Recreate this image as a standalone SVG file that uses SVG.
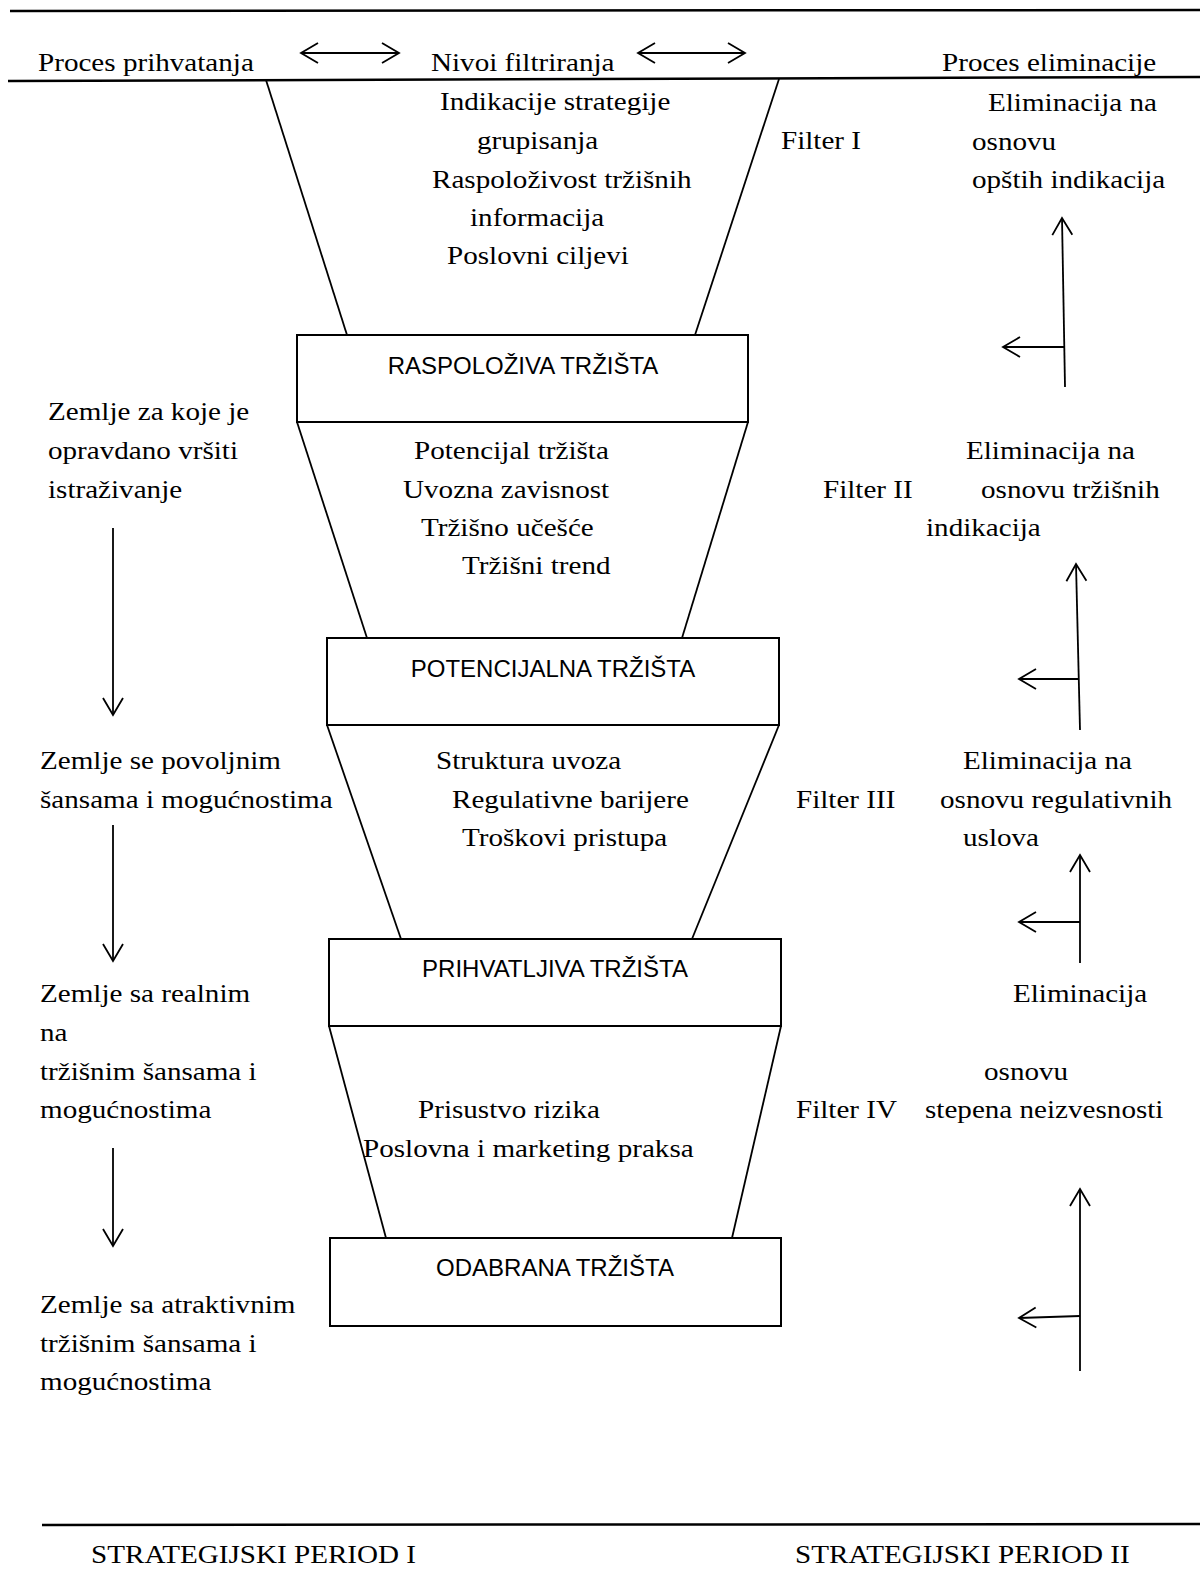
<svg xmlns="http://www.w3.org/2000/svg" width="1200" height="1573" viewBox="0 0 1200 1573">
  <defs>
    <style>
      .t { font-family: "Liberation Serif", "Times New Roman", serif; font-size: 26px; fill: #000; }
      .b { font-family: "Liberation Sans", Arial, sans-serif; font-size: 24px; fill: #000; text-anchor: middle; }
      .box { fill: #fff; stroke: #000; stroke-width: 2; }
      .rule { stroke: #000; stroke-width: 2.5; fill: none; }
      .edge { stroke: #000; stroke-width: 1.8; fill: none; }
      .arrow { stroke: #000; stroke-width: 1.8; fill: none; marker-end: url(#head); }
      .dbl { stroke: #000; stroke-width: 1.8; fill: none; marker-start: url(#head); marker-end: url(#head); }
    </style>
    <marker id="head" viewBox="-20 -12 22 24" refX="0" refY="0" markerWidth="22" markerHeight="24" markerUnits="userSpaceOnUse" orient="auto-start-reverse">
      <path d="M-17,-10 L0,0 L-17,10" fill="none" stroke="#000" stroke-width="1.8"/>
    </marker>
  </defs>

  <rect width="1200" height="1573" fill="#fff"/>

  <!-- page rules -->
  <g id="rules">
    <line class="rule" x1="10" y1="11" x2="1200" y2="10"/>
    <line class="rule" x1="8" y1="81" x2="1200" y2="77"/>
    <line class="rule" x1="42" y1="1525" x2="1200" y2="1524"/>
  </g>

  <!-- funnel walls, flow arrows -->
  <g id="connectors">
    <line class="edge" x1="266" y1="80" x2="347" y2="335"/>
    <line class="edge" x1="779" y1="79" x2="695" y2="335"/>
    <line class="edge" x1="297" y1="422" x2="367" y2="638"/>
    <line class="edge" x1="748" y1="422" x2="682" y2="638"/>
    <line class="edge" x1="327" y1="725" x2="401" y2="939"/>
    <line class="edge" x1="779" y1="725" x2="692" y2="939"/>
    <line class="edge" x1="329" y1="1026" x2="386" y2="1238"/>
    <line class="edge" x1="781" y1="1026" x2="732" y2="1238"/>

    <line class="dbl" x1="301" y1="53" x2="399" y2="53"/>
    <line class="dbl" x1="638" y1="53" x2="745" y2="53"/>

    <line class="arrow" x1="113" y1="528" x2="113" y2="715"/>
    <line class="arrow" x1="113" y1="825" x2="113" y2="961"/>
    <line class="arrow" x1="113" y1="1148" x2="113" y2="1246"/>

    <line class="arrow" x1="1065" y1="387" x2="1062" y2="218"/>
    <line class="arrow" x1="1065" y1="347" x2="1003" y2="347"/>
    <line class="arrow" x1="1080" y1="730" x2="1076" y2="564"/>
    <line class="arrow" x1="1079" y1="679" x2="1019" y2="679"/>
    <line class="arrow" x1="1080" y1="963" x2="1080" y2="855"/>
    <line class="arrow" x1="1080" y1="922" x2="1019" y2="922"/>
    <line class="arrow" x1="1080" y1="1371" x2="1080" y2="1189"/>
    <line class="arrow" x1="1080" y1="1316" x2="1019" y2="1318"/>
  </g>

  <!-- market stages -->
  <g id="raspoloziva">
    <rect class="box" x="297" y="335" width="451" height="87"/>
    <text class="b" x="523" y="374">RASPOLOŽIVA TRŽIŠTA</text>
  </g>
  <g id="potencijalna">
    <rect class="box" x="327" y="638" width="452" height="87"/>
    <text class="b" x="553" y="677">POTENCIJALNA TRŽIŠTA</text>
  </g>
  <g id="prihvatljiva">
    <rect class="box" x="329" y="939" width="452" height="87"/>
    <text class="b" x="555" y="977">PRIHVATLJIVA TRŽIŠTA</text>
  </g>
  <g id="odabrana">
    <rect class="box" x="330" y="1238" width="451" height="88"/>
    <text class="b" x="555" y="1276">ODABRANA TRŽIŠTA</text>
  </g>

  <!-- column headings -->
  <g id="headings">
    <text class="t" transform="translate(38 71) scale(1.12 1)">Proces prihvatanja</text>
    <text class="t" transform="translate(431 71) scale(1.12 1)">Nivoi filtriranja</text>
    <text class="t" transform="translate(942 71) scale(1.12 1)">Proces eliminacije</text>
  </g>

  <!-- filter I -->
  <g id="filter1">
    <text class="t" transform="translate(440 110) scale(1.12 1)">Indikacije strategije</text>
    <text class="t" transform="translate(477 149) scale(1.12 1)">grupisanja</text>
    <text class="t" transform="translate(432 188) scale(1.12 1)">Raspoloživost tržišnih</text>
    <text class="t" transform="translate(470 226) scale(1.12 1)">informacija</text>
    <text class="t" transform="translate(447 264) scale(1.12 1)">Poslovni ciljevi</text>
    <text class="t" transform="translate(781 149) scale(1.12 1)">Filter I</text>
  </g>
  <g id="elim1">
    <text class="t" transform="translate(988 111) scale(1.12 1)">Eliminacija na</text>
    <text class="t" transform="translate(972 150) scale(1.12 1)">osnovu</text>
    <text class="t" transform="translate(972 188) scale(1.12 1)">opštih indikacija</text>
  </g>

  <!-- filter II -->
  <g id="accept1">
    <text class="t" transform="translate(48 420) scale(1.12 1)">Zemlje za koje je</text>
    <text class="t" transform="translate(48 459) scale(1.12 1)">opravdano vršiti</text>
    <text class="t" transform="translate(48 498) scale(1.12 1)">istraživanje</text>
  </g>
  <g id="filter2">
    <text class="t" transform="translate(414 459) scale(1.12 1)">Potencijal tržišta</text>
    <text class="t" transform="translate(403 498) scale(1.12 1)">Uvozna zavisnost</text>
    <text class="t" transform="translate(421 536) scale(1.12 1)">Tržišno učešće</text>
    <text class="t" transform="translate(462 574) scale(1.12 1)">Tržišni trend</text>
    <text class="t" transform="translate(823 498) scale(1.12 1)">Filter II</text>
  </g>
  <g id="elim2">
    <text class="t" transform="translate(966 459) scale(1.12 1)">Eliminacija na</text>
    <text class="t" transform="translate(981 498) scale(1.12 1)">osnovu tržišnih</text>
    <text class="t" transform="translate(926 536) scale(1.12 1)">indikacija</text>
  </g>

  <!-- filter III -->
  <g id="accept2">
    <text class="t" transform="translate(40 769) scale(1.12 1)">Zemlje se povoljnim</text>
    <text class="t" transform="translate(40 808) scale(1.12 1)">šansama i mogućnostima</text>
  </g>
  <g id="filter3">
    <text class="t" transform="translate(436 769) scale(1.12 1)">Struktura uvoza</text>
    <text class="t" transform="translate(452 808) scale(1.12 1)">Regulativne barijere</text>
    <text class="t" transform="translate(462 846) scale(1.12 1)">Troškovi pristupa</text>
    <text class="t" transform="translate(796 808) scale(1.12 1)">Filter III</text>
  </g>
  <g id="elim3">
    <text class="t" transform="translate(963 769) scale(1.12 1)">Eliminacija na</text>
    <text class="t" transform="translate(940 808) scale(1.12 1)">osnovu regulativnih</text>
    <text class="t" transform="translate(963 846) scale(1.12 1)">uslova</text>
  </g>

  <!-- filter IV -->
  <g id="accept3">
    <text class="t" transform="translate(40 1002) scale(1.12 1)">Zemlje sa realnim</text>
    <text class="t" transform="translate(40 1041) scale(1.12 1)">na</text>
    <text class="t" transform="translate(40 1080) scale(1.12 1)">tržišnim šansama i</text>
    <text class="t" transform="translate(40 1118) scale(1.12 1)">mogućnostima</text>
  </g>
  <g id="filter4">
    <text class="t" transform="translate(418 1118) scale(1.12 1)">Prisustvo rizika</text>
    <text class="t" transform="translate(363 1157) scale(1.12 1)">Poslovna i marketing praksa</text>
    <text class="t" transform="translate(796 1118) scale(1.12 1)">Filter IV</text>
  </g>
  <g id="elim4">
    <text class="t" transform="translate(1013 1002) scale(1.12 1)">Eliminacija</text>
    <text class="t" transform="translate(984 1080) scale(1.12 1)">osnovu</text>
    <text class="t" transform="translate(925 1118) scale(1.12 1)">stepena neizvesnosti</text>
  </g>

  <g id="accept4">
    <text class="t" transform="translate(40 1313) scale(1.12 1)">Zemlje sa atraktivnim</text>
    <text class="t" transform="translate(40 1352) scale(1.12 1)">tržišnim šansama i</text>
    <text class="t" transform="translate(40 1390) scale(1.12 1)">mogućnostima</text>
  </g>

  <!-- periods -->
  <g id="periods">
    <text class="t" transform="translate(91 1563) scale(1.12 1)">STRATEGIJSKI PERIOD I</text>
    <text class="t" transform="translate(795 1563) scale(1.12 1)">STRATEGIJSKI PERIOD II</text>
  </g>
</svg>
